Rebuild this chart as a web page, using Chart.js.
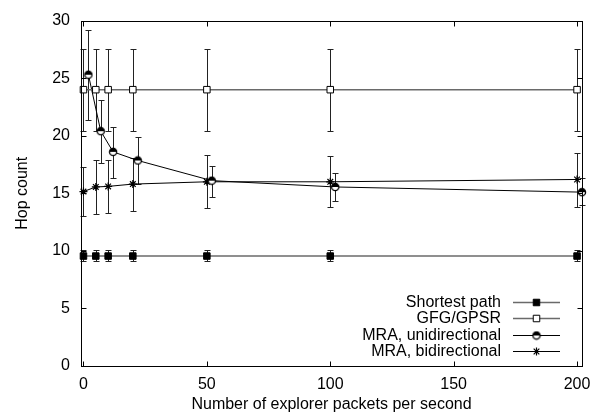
<!DOCTYPE html>
<html lang="en">
<head>
<meta charset="UTF-8">
<title>Hop count</title>
<style>
  html, body { margin: 0; padding: 0; background: #fff; }
  #wrap { width: 607px; height: 417px; }
</style>
<script src="https://cdn.jsdelivr.net/npm/chart.js"></script>
</head>
<body>
<div id="wrap"><canvas id="hops"></canvas></div>
<script>
// values
const xTicks = [0, 50, 100, 150, 200];
const rates = [0, 5, 10, 20, 50, 100, 200];
const ratesUni = [2, 7, 12, 22, 52, 102, 202];   // drawn slightly shifted

const shortest = [9.55, 9.55, 9.55, 9.55, 9.55, 9.55, 9.55];
const shortestLo = [9.1, 9.1, 9.1, 9.1, 9.1, 9.1, 9.1];
const shortestHi = [10.05, 10.05, 10.05, 10.05, 10.05, 10.05, 10.05];

const gfg = [24, 24, 24, 24, 24, 24, 24];
const gfgLo = [20.45, 20.45, 20.45, 20.45, 20.45, 20.45, 20.45];
const gfgHi = [27.55, 27.55, 27.55, 27.55, 27.55, 27.55, 27.55];

const uni = [25.3, 20.4, 18.6, 17.85, 16.1, 15.55, 15.1];
const uniLo = [21.4, 17.6, 16.3, 15.8, 14.7, 14.3, 14.0];
const uniHi = [29.2, 23.1, 20.8, 19.9, 17.4, 16.8, 16.3];

const bi = [15.15, 15.55, 15.6, 15.8, 16.0, 16.0, 16.2];
const biLo = [13.0, 13.2, 13.3, 13.5, 13.7, 13.8, 13.8];
const biHi = [17.3, 17.9, 17.9, 18.1, 18.3, 18.2, 18.5];

const FONT = 'Liberation Sans, Arial, sans-serif';
const FSIZE = 16;

// half filled circle marker
const halfDot = document.createElement('canvas');
halfDot.width = halfDot.height = 10;
(function () {
    const h = halfDot.getContext('2d');
    h.beginPath(); h.arc(5, 5, 3.6, 0, 2 * Math.PI); h.fillStyle = '#fff'; h.fill();
    h.beginPath(); h.arc(5, 5, 3.6, Math.PI, 2 * Math.PI); h.fillStyle = '#000'; h.fill();
    h.beginPath(); h.arc(5, 5, 3.6, 0, 2 * Math.PI); h.lineWidth = 1.3; h.strokeStyle = '#000'; h.stroke();
})();

function pts(xs, ys) {
    return xs.map((x, i) => ({ x: x, y: ys[i] }));
}

const errorBars = {
    id: 'errorBars',
    beforeDatasetsDraw(chart) {
        const ctx = chart.ctx;
        const y = chart.scales.y;
        ctx.save();
        ctx.strokeStyle = '#222';
        ctx.lineWidth = 1;
        chart.data.datasets.forEach((ds, di) => {
            const meta = chart.getDatasetMeta(di);
            meta.data.forEach((p, i) => {
                const x = Math.round(p.x) + 0.5;
                const lo = Math.round(y.getPixelForValue(ds.errLo[i])) + 0.5;
                const hi = Math.round(y.getPixelForValue(ds.errHi[i])) + 0.5;
                ctx.beginPath();
                ctx.moveTo(x, lo); ctx.lineTo(x, hi);
                ctx.moveTo(x - 3, lo); ctx.lineTo(x + 3, lo);
                ctx.moveTo(x - 3, hi); ctx.lineTo(x + 3, hi);
                ctx.stroke();
            });
        });
        ctx.restore();
    }
};

const frame = {
    id: 'frame',
    afterDraw(chart) {
        const ctx = chart.ctx;
        const a = chart.chartArea;
        const L = Math.round(a.left) + 0.5, R = Math.round(a.right) + 0.5;
        const T = Math.round(a.top) + 0.5, B = Math.round(a.bottom) + 0.5;
        ctx.save();
        ctx.strokeStyle = '#000';
        ctx.lineWidth = 1;
        ctx.strokeRect(L, T, R - L, B - T);
        ctx.beginPath();
        chart.scales.x.ticks.forEach(t => {
            const px = Math.round(chart.scales.x.getPixelForValue(t.value)) + 0.5;
            ctx.moveTo(px, B); ctx.lineTo(px, B - 5);
            ctx.moveTo(px, T); ctx.lineTo(px, T + 5);
        });
        chart.scales.y.ticks.forEach(t => {
            const py = Math.round(chart.scales.y.getPixelForValue(t.value)) + 0.5;
            ctx.moveTo(L, py); ctx.lineTo(L + 5, py);
            ctx.moveTo(R, py); ctx.lineTo(R - 5, py);
        });
        ctx.stroke();
        ctx.restore();
    }
};

// gnuplot style key: text right aligned, then line sample with marker
const key = {
    id: 'key',
    afterDraw(chart) {
        const ctx = chart.ctx;
        const textRight = 501, x0 = 513, x1 = 560;
        ctx.save();
        ctx.font = FSIZE + 'px ' + FONT;
        ctx.textAlign = 'right';
        ctx.textBaseline = 'middle';
        chart.data.datasets.forEach((ds, i) => {
            const yy = Math.round(302 + i * 16.3) + 0.5;
            ctx.fillStyle = '#000';
            ctx.fillText(ds.label, textRight, yy);
            ctx.strokeStyle = ds.borderColor;
            ctx.lineWidth = ds.borderWidth;
            ctx.beginPath(); ctx.moveTo(x0, yy); ctx.lineTo(x1, yy); ctx.stroke();
            ctx.fillStyle = ds.pointBackgroundColor;
            ctx.strokeStyle = ds.pointBorderColor;
            ctx.lineWidth = ds.pointBorderWidth;
            Chart.helpers.drawPoint(ctx, {
                pointStyle: ds.pointStyle, radius: ds.pointRadius, rotation: 0, borderWidth: ds.pointBorderWidth
            }, (x0 + x1) / 2, yy);
        });
        ctx.restore();
    }
};

new Chart(document.getElementById('hops'), {
    type: 'line',
    data: {
        datasets: [{
            label: 'Shortest path',
            data: pts(rates, shortest), errLo: shortestLo, errHi: shortestHi,
            borderColor: '#6a6a6a', borderWidth: 1.5,
            pointStyle: 'rect', pointRadius: 4.6,
            pointBackgroundColor: '#000', pointBorderColor: '#000', pointBorderWidth: 1
        }, {
            label: 'GFG/GPSR',
            data: pts(rates, gfg), errLo: gfgLo, errHi: gfgHi,
            borderColor: '#6a6a6a', borderWidth: 1.5,
            pointStyle: 'rect', pointRadius: 4.6,
            pointBackgroundColor: '#fff', pointBorderColor: '#000', pointBorderWidth: 1
        }, {
            label: 'MRA, unidirectional',
            data: pts(ratesUni, uni), errLo: uniLo, errHi: uniHi,
            borderColor: '#000', borderWidth: 1,
            pointStyle: halfDot, pointRadius: 4,
            pointBackgroundColor: '#000', pointBorderColor: '#000', pointBorderWidth: 1
        }, {
            label: 'MRA, bidirectional',
            data: pts(rates, bi), errLo: biLo, errHi: biHi,
            borderColor: '#000', borderWidth: 1,
            pointStyle: 'star', pointRadius: 4,
            pointBackgroundColor: '#000', pointBorderColor: '#000', pointBorderWidth: 1.2
        }]
    },
    options: {
        responsive: true,
        maintainAspectRatio: false,
        animation: false,
        layout: { padding: { top: 13, right: 25, left: 0, bottom: 0 } },
        datasets: { line: { clip: false, tension: 0, fill: false } },
        plugins: { legend: { display: false }, tooltip: { enabled: false } },
        scales: {
            x: {
                type: 'linear', min: -1, max: 202,
                afterBuildTicks: s => { s.ticks = xTicks.map(v => ({ value: v })); },
                afterFit: s => { s.height = 51; },
                grid: { display: false, drawTicks: false },
                border: { display: false },
                ticks: { color: '#000', padding: 9, font: { family: FONT, size: FSIZE } },
                title: {
                    display: true, text: 'Number of explorer packets per second', color: '#000',
                    font: { family: FONT, size: FSIZE }, padding: { top: 0, bottom: 3 }
                }
            },
            y: {
                min: 0, max: 30,
                ticks: { stepSize: 5, color: '#000', padding: 11, font: { family: FONT, size: FSIZE } },
                afterFit: s => { s.width = 81; },
                grid: { display: false, drawTicks: false },
                border: { display: false },
                title: {
                    display: true, text: 'Hop count', color: '#000',
                    font: { family: FONT, size: FSIZE }, padding: { top: 13, bottom: 0 }
                }
            }
        }
    },
    plugins: [errorBars, frame, key]
});
</script>
</body>
</html>
